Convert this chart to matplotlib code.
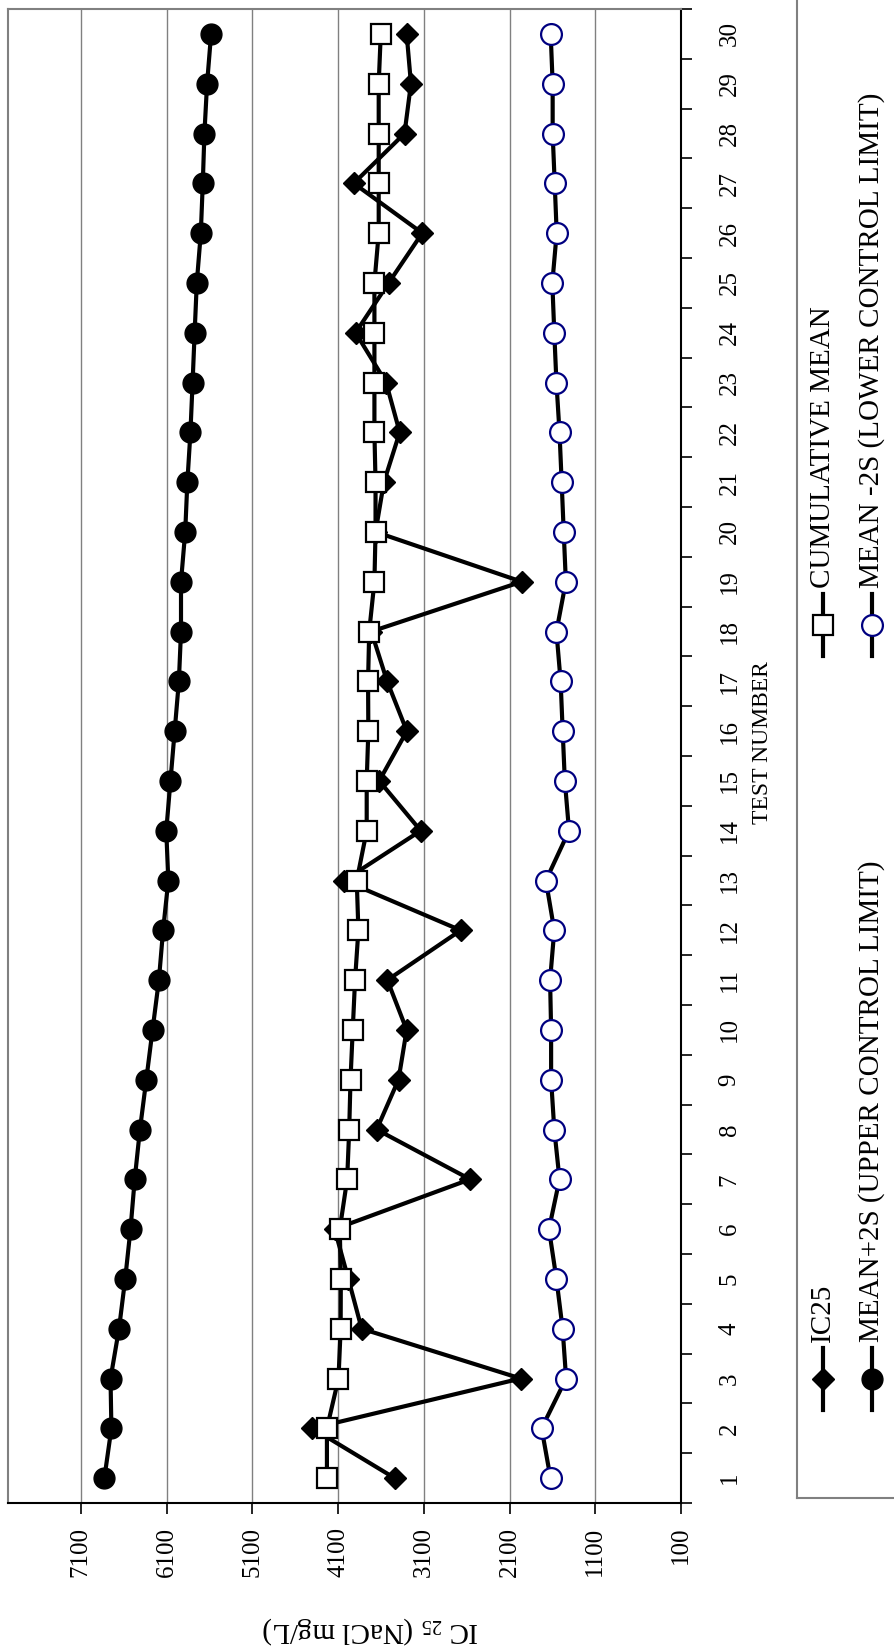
import matplotlib
matplotlib.use("Agg")
import matplotlib.pyplot as plt
from matplotlib.lines import Line2D
import numpy as np

plt.rcParams["font.family"] = ["Liberation Serif", "DejaVu Serif"]
plt.rcParams["mathtext.fontset"] = "custom"
plt.rcParams["mathtext.rm"] = "Liberation Serif"

# data
tests = np.arange(1, 31)
ic25 = [3440, 4400, 1970, 3825, 3980, 4140, 2560, 3650, 3395, 3300,
        3525, 2670, 4030, 3136, 3620, 3298, 3528, 3712, 1958, 3663,
        3565, 3381, 3540, 3896, 3510, 3118, 3917, 3325, 3250, 3300]
cum_mean = [4230, 4230, 4095, 4070, 4068, 4080, 3994, 3970, 3955, 3929,
            3902, 3863, 3882, 3766, 3766, 3747, 3750, 3737, 3676, 3663,
            3663, 3676, 3676, 3676, 3676, 3626, 3626, 3626, 3626, 3602]
ucl = [6826, 6744, 6754, 6655, 6583, 6521, 6472, 6411, 6337, 6264,
       6190, 6141, 6080, 6104, 6055, 6006, 5957, 5932, 5932, 5883,
       5858, 5822, 5797, 5773, 5748, 5701, 5678, 5659, 5628, 5581]
lcl = [1622, 1726, 1440, 1481, 1553, 1640, 1517, 1578, 1615, 1615,
       1627, 1578, 1676, 1406, 1455, 1480, 1504, 1553, 1443, 1468,
       1492, 1517, 1553, 1578, 1601, 1550, 1573, 1597, 1597, 1620]
value_ticks = [100, 1100, 2100, 3100, 4100, 5100, 6100, 7100]

labels = ["IC25", "CUMULATIVE MEAN",
          "MEAN+2S (UPPER CONTROL LIMIT)", "MEAN -2S (LOWER CONTROL LIMIT)"]

W, H = 894, 1650
fig = plt.figure(figsize=(W / 100, H / 100), dpi=100)
ax = fig.add_axes([8 / W, 1 - 1503 / H, (681 - 8) / W, (1503 - 9) / H])

styles = [
    dict(marker="D", ms=11, mfc="black", mec="black", mew=1),
    dict(marker="s", ms=14, mfc="white", mec="black", mew=1.6),
    dict(marker="o", ms=15, mfc="black", mec="black", mew=1),
    dict(marker="o", ms=15, mfc="white", mec="#000080", mew=1.6),
]
series = [ic25, cum_mean, ucl, lcl]
for vals, st in zip(series, styles):
    ax.plot(vals, tests, color="black", lw=3, zorder=3, **st)

# chart is turned on its side: values run right to left, tests bottom to top
ax.set_xlim(7950, 100)
ax.set_ylim(0.5, 30.5)

ax.set_xticks(value_ticks)
ax.set_xticklabels([str(v) for v in value_ticks], rotation=90)
ax.tick_params(axis="x", direction="out", length=8, width=1.2, pad=9,
               labelsize=18)
ax.grid(axis="x", color="#808080", lw=1)

ax.yaxis.tick_right()
ax.set_yticks(tests)
ax.set_yticklabels([str(t) for t in tests], rotation=90, va="center")
ax.set_yticks(np.arange(0.5, 31, 1), minor=True)
ax.tick_params(axis="y", which="major", length=0, pad=27, labelsize=18)
ax.tick_params(axis="y", which="minor", direction="out", length=8, width=1.2)

for side in ["left", "top"]:
    ax.spines[side].set_color("#808080")
    ax.spines[side].set_linewidth(1.5)
for side in ["right", "bottom"]:
    ax.spines[side].set_color("black")
    ax.spines[side].set_linewidth(1.5)

fig.text(762 / W, 1 - 743 / H, "TEST NUMBER", rotation=90,
         ha="center", va="center", fontsize=17)
fig.text(370 / W, 1 - 1630 / H, r"IC $_{25}$ (NaCl mg/L)", rotation=180,
         ha="center", va="center", fontsize=21)

# legend, drawn by hand because its text is turned too
lg = fig.add_axes([0, 0, 1, 1], zorder=5)
lg.set_xlim(0, W)
lg.set_ylim(H, 0)
lg.axis("off")
lg.plot([797, 797], [0, 1498], color="#808080", lw=1.5)
lg.plot([797, W], [1498, 1498], color="#808080", lw=1.5)

key_x = [823, 823, 872, 872]
key_y = [1379, 625, 1379, 625]
for lab, st, kx, ky in zip(labels, styles, key_x, key_y):
    lg.add_line(Line2D([kx, kx, kx], [ky + 31, ky, ky - 31], color="black",
                       lw=3, markevery=[1], **st))
    lg.text(kx, ky - 37, lab, rotation=90, rotation_mode="anchor",
            ha="left", va="center", fontsize=21)

fig.savefig("out.png", dpi=100)
